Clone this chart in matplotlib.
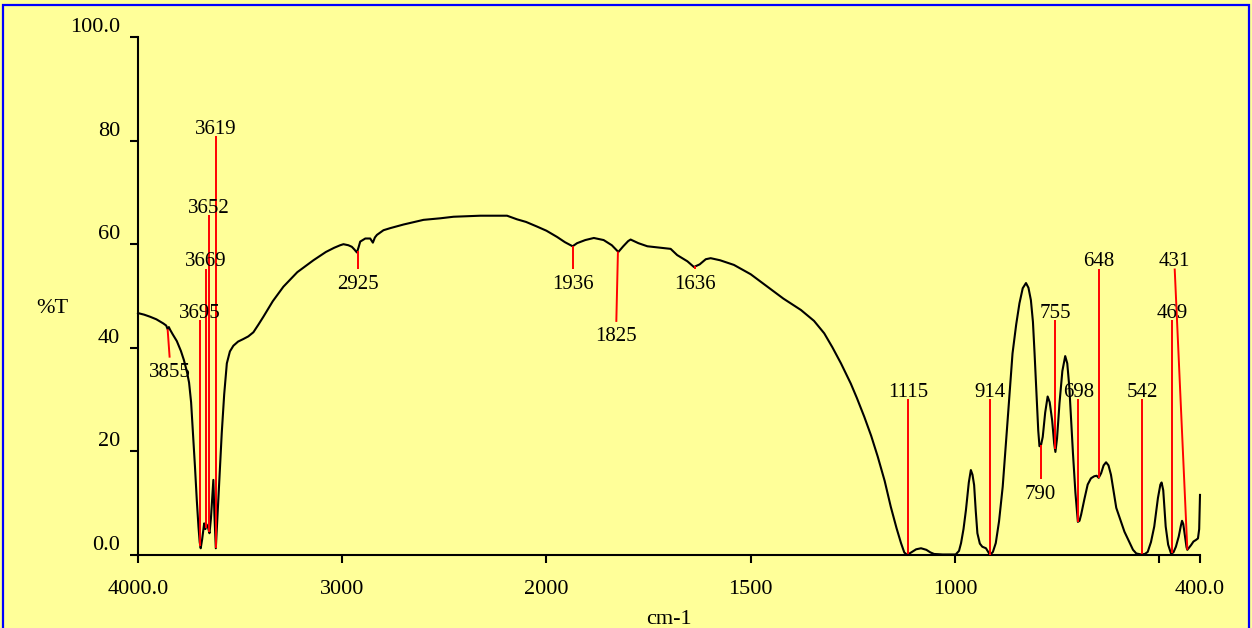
import numpy as np
import matplotlib
matplotlib.use("Agg")
import matplotlib.pyplot as plt
from matplotlib.patches import Rectangle

# IR spectrum, %T against wavenumber (cm-1)
WAVENUMBER = [
    4000, 3970, 3941, 3910, 3876, 3862, 3855, 3849, 3843, 3830, 3810, 3790,
    3775, 3760, 3750, 3740, 3730, 3721, 3712, 3704, 3698, 3693, 3686, 3676,
    3670, 3664, 3657, 3650, 3643, 3636, 3631, 3626, 3619, 3612, 3603, 3590,
    3578, 3565, 3550, 3533, 3510, 3484, 3460, 3435, 3410, 3386, 3340, 3288,
    3220, 3141, 3080, 3040, 3010, 2994, 2970, 2953, 2941, 2928, 2920, 2912,
    2887, 2863, 2850, 2840, 2830, 2798, 2765, 2700, 2602, 2520, 2455, 2324,
    2193, 2144, 2100, 2046, 2000, 1974, 1955, 1941, 1936, 1925, 1905, 1884,
    1860, 1840, 1824, 1812, 1800, 1794, 1775, 1753, 1720, 1696, 1680, 1655,
    1639, 1625, 1610, 1598, 1575, 1541, 1500, 1459, 1420, 1377, 1345, 1320,
    1300, 1279, 1255, 1240, 1222, 1205, 1189, 1172, 1157, 1143, 1132, 1124,
    1117, 1105, 1095, 1083, 1070, 1060, 1051, 1030, 998, 990, 985, 979,
    973, 966, 961, 957, 953, 949, 945, 939, 933, 924, 918, 914,
    907, 900, 892, 883, 877, 871, 865, 859, 850, 842, 834, 826,
    820, 814, 809, 805, 800, 796, 793, 789, 785, 779, 773, 768,
    762, 757, 754, 750, 744, 737, 730, 725, 720, 715, 711, 705,
    699, 695, 691, 683, 675, 667, 659, 653, 648, 642, 636, 630,
    624, 618, 612, 605, 595, 585, 576, 564, 556, 544, 535, 528,
    520, 512, 503, 497, 494, 490, 484, 478, 471, 465, 459, 452,
    447, 444, 441, 437, 433, 431, 426, 422, 416, 410, 405, 402, 400,
]
TRANSMITTANCE = [
    46.7, 46.4, 46.0, 45.5, 44.7, 44.3, 43.6, 44.0, 43.5, 42.6, 41.3, 39.4,
    37.6, 35.3, 33.3, 29.5, 23.0, 17.0, 10.5, 5.5, 2.5, 1.3, 3.0, 6.1,
    5.0, 5.9, 5.3, 4.2, 7.0, 11.5, 14.5, 8.0, 1.3, 6.5, 13.5, 23.5,
    31.0, 37.0, 39.3, 40.4, 41.2, 41.7, 42.2, 43.0, 44.5, 46.0, 49.0, 51.8,
    54.6, 56.9, 58.5, 59.3, 59.8, 60.0, 59.8, 59.5, 59.0, 58.4, 59.4, 60.5,
    61.1, 61.1, 60.3, 61.3, 61.8, 62.7, 63.1, 63.8, 64.7, 65.0, 65.3, 65.5,
    65.5, 64.8, 64.3, 63.4, 62.6, 61.4, 60.4, 59.8, 59.6, 60.2, 60.8, 61.2,
    60.8, 59.8, 58.5, 59.6, 60.6, 60.9, 60.2, 59.6, 59.3, 59.1, 57.9, 56.7,
    55.6, 56.1, 57.1, 57.3, 56.9, 56.0, 54.2, 51.8, 49.5, 47.3, 45.2, 42.8,
    40.1, 37.0, 33.1, 30.3, 26.7, 23.0, 19.0, 14.3, 9.3, 5.2, 2.3, 0.5,
    0.0, 0.6, 1.1, 1.3, 1.0, 0.5, 0.2, 0.1, 0.1, 0.8, 2.3, 5.0,
    8.7, 14.0, 16.4, 15.5, 13.5, 8.5, 4.2, 2.2, 1.6, 1.3, 0.5, 0.0,
    0.6, 2.3, 6.5, 13.2, 19.5, 26.0, 32.5, 38.9, 44.5, 48.6, 51.5, 52.5,
    51.6, 49.2, 45.0, 38.9, 30.5, 24.0, 21.0, 21.3, 22.8, 27.5, 30.6, 29.5,
    26.0, 21.5, 19.9, 22.5, 29.3, 35.5, 38.4, 37.0, 32.5, 25.5, 19.6, 12.0,
    6.4, 6.6, 7.8, 10.8, 13.6, 14.8, 15.2, 15.3, 14.9, 15.8, 17.3, 17.9,
    17.3, 15.5, 12.5, 9.1, 6.8, 4.5, 3.0, 1.0, 0.3, 0.1, 0.2, 0.6,
    2.5, 5.5, 11.0, 13.6, 14.0, 12.5, 5.5, 2.0, 0.3, 0.5, 1.6, 3.6,
    5.6, 6.6, 6.0, 3.8, 1.5, 1.0, 1.5, 1.9, 2.6, 2.9, 3.2, 5.0, 11.6,
]

# picked peaks and where their red leader ends (%T)
PEAKS = [3855, 3695, 3669, 3652, 3619, 2925, 1936, 1825, 1636,
         1115, 914, 790, 755, 698, 648, 542, 469, 431]
LEADER_END = [38.1, 45.4, 55.3, 65.6, 80.8, 55.2, 55.2, 45.0, 55.2,
              30.1, 30.1, 14.6, 45.4, 30.1, 55.3, 30.1, 45.4, 55.3]
LABEL_BELOW = [True, False, False, False, False, True, True, True, True,
               False, False, True, False, False, False, False, False, False]
# leaders that lean sideways end at a different wavenumber
LEADER_END_WN = {3855: 3845, 1825: 1829, 431: 462}

XTICKS = [4000, 3000, 2000, 1500, 1000, 500, 400]
XTICK_LABELS = ["4000.0", "3000", "2000", "1500", "1000", "", "400.0"]
YTICKS = [0, 20, 40, 60, 80, 100]
YTICK_LABELS = ["0.0", "20", "40", "60", "80", "100.0"]

BG = "#FFFF99"
FONT = "Liberation Serif"


# abscissa expanded 2x below 2000 cm-1
def fwd(x):
    x = np.asarray(x, dtype=float)
    return np.where(x >= 2000, x, 2 * x - 2000)


def inv(u):
    u = np.asarray(u, dtype=float)
    return np.where(u >= 2000, u, (u + 2000) / 2)


def make_plot(output_path="out.png"):
    W, H = 1252, 628
    fig = plt.figure(figsize=(W / 100, H / 100), dpi=100, facecolor=BG)
    ax = fig.add_axes([138 / W, 73 / H, 1062 / W, 518 / H])
    ax.set_facecolor(BG)

    ax.set_xscale("function", functions=(fwd, inv))
    ax.set_xlim(4000, 400)
    ax.set_ylim(0, 100)

    wn = np.array(WAVENUMBER, dtype=float)
    tr = np.array(TRANSMITTANCE, dtype=float)
    ax.plot(wn, tr, color="black", lw=1.5, clip_on=False, zorder=3)

    # red leaders + peak labels
    for pk, end, below in zip(PEAKS, LEADER_END, LABEL_BELOW):
        start = np.interp(pk, wn[::-1], tr[::-1])
        end_wn = LEADER_END_WN.get(pk, pk)
        ax.plot([pk, end_wn], [start, end], color="red", lw=1.4, zorder=4,
                solid_capstyle="butt")
        if below:
            ax.annotate(str(pk), xy=(end_wn, end), xytext=(0, -4),
                        textcoords="offset points", ha="center", va="top",
                        fontsize=15, family=FONT, zorder=5)
        else:
            ax.annotate(str(pk), xy=(end_wn, end), xytext=(0, 1.5),
                        textcoords="offset points", ha="center", va="baseline",
                        fontsize=15, family=FONT, zorder=5)

    for side in ["top", "right"]:
        ax.spines[side].set_visible(False)
    for side in ["left", "bottom"]:
        ax.spines[side].set_linewidth(1.5)

    ax.set_xticks(XTICKS)
    ax.set_xticklabels(XTICK_LABELS)
    ax.set_yticks(YTICKS)
    ax.set_yticklabels(YTICK_LABELS)
    ax.minorticks_off()
    ax.tick_params(axis="both", direction="out", length=6, width=1.5,
                   labelsize=16)
    ax.tick_params(axis="x", pad=12)
    ax.tick_params(axis="y", pad=7)
    for lab in ax.get_xticklabels() + ax.get_yticklabels():
        lab.set_family(FONT)
    # y labels sit on their tick rather than centred on it
    for tick in ax.yaxis.get_major_ticks():
        tick.label1.set_verticalalignment("bottom")

    fig.text(52 / W, 1 - 309 / H, "%T", ha="center", va="center",
             fontsize=16, family=FONT)
    fig.text(669 / W, 4 / H, "cm-1", ha="center", va="baseline",
             fontsize=16, family=FONT)

    # blue frame round the page
    fig.patches.append(Rectangle((3 / W, -0.05), (W - 6) / W, 1.05 - 5 / H,
                                 transform=fig.transFigure, fill=False,
                                 edgecolor="#0000FF", lw=1.6))

    fig.savefig(output_path, dpi=100, facecolor=BG)
    plt.close(fig)


if __name__ == "__main__":
    make_plot()
